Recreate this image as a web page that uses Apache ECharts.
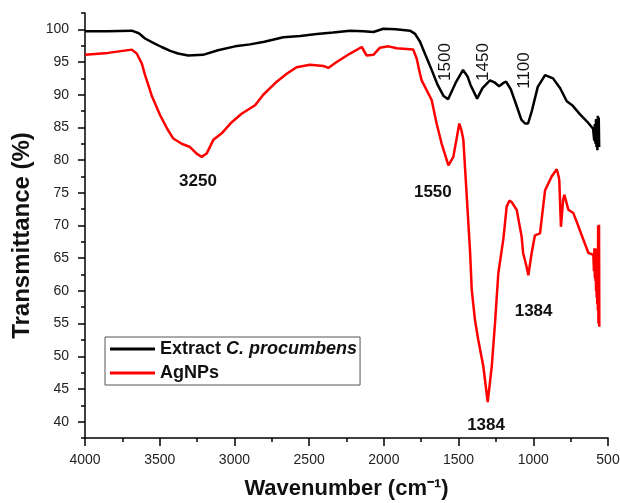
<!DOCTYPE html>
<html>
<head>
<meta charset="utf-8">
<script src="https://cdn.jsdelivr.net/npm/echarts@6/dist/echarts.min.js"></script>
<style>
html, body { margin: 0; padding: 0; background: #fff; }
#main { width: 620px; height: 503px; }
</style>
</head>
<body>
<div id="main"></div>
<script>
// FTIR spectra, wavenumber (cm-1) vs transmittance (%)
var extractWn = [4000, 3850, 3687, 3640, 3598, 3540, 3487, 3430, 3377, 3310, 3210, 3110, 2996, 2896, 2800, 2673, 2560, 2449, 2340, 2226, 2137, 2070, 2003, 1920, 1825, 1791, 1758, 1720, 1680, 1640, 1600, 1570, 1520, 1470, 1440, 1420, 1376, 1340, 1290, 1260, 1229, 1200, 1182, 1150, 1110, 1080, 1055, 1035, 1010, 970, 921, 868, 820, 776, 740, 687, 640, 600, 592, 588, 584, 580, 577, 574, 571, 568, 565, 562, 559];
var extractT = [99.7, 99.7, 99.8, 99.4, 98.6, 97.9, 97.3, 96.7, 96.3, 96.0, 96.1, 96.8, 97.4, 97.7, 98.1, 98.8, 99.0, 99.3, 99.5, 99.8, 99.7, 99.6, 100.1, 100.0, 99.8, 99.3, 98.1, 96.0, 93.8, 91.5, 89.8, 89.3, 91.8, 93.8, 92.8, 91.5, 89.4, 91.0, 92.2, 91.9, 91.3, 91.8, 92.0, 90.8, 88.2, 86.2, 85.6, 85.6, 87.5, 91.2, 93.0, 92.5, 91.0, 89.0, 88.4, 87.0, 85.9, 84.8, 83.0, 85.5, 82.5, 86.3, 82.0, 85.8, 81.5, 86.8, 82.5, 86.5, 82.0];

var agWn = [4000, 3846, 3687, 3654, 3620, 3598, 3554, 3498, 3450, 3409, 3353, 3297, 3253, 3219, 3186, 3141, 3085, 3018, 2952, 2862, 2807, 2717, 2650, 2584, 2494, 2405, 2372, 2316, 2226, 2148, 2115, 2070, 2026, 1970, 1914, 1803, 1780, 1758, 1747, 1680, 1647, 1613, 1568, 1535, 1495, 1480, 1468, 1445, 1423, 1412, 1390, 1368, 1334, 1305, 1278, 1256, 1234, 1200, 1178, 1160, 1145, 1111, 1078, 1068, 1060, 1045, 1033, 1011, 989, 955, 921, 877, 843, 830, 826, 815, 800, 792, 765, 732, 700, 676, 631, 598, 594, 591, 588, 586, 584, 582, 580, 578, 576, 574, 572, 570, 568, 566, 564, 562, 560, 558];
var agT = [96.1, 96.4, 96.9, 96.3, 94.8, 93.0, 89.9, 86.9, 84.8, 83.3, 82.5, 82.0, 81.0, 80.5, 81.0, 83.1, 84.1, 85.8, 87.1, 88.4, 90.0, 92.0, 93.2, 94.2, 94.6, 94.4, 94.1, 95.0, 96.3, 97.3, 96.0, 96.1, 97.2, 97.4, 97.1, 96.9, 95.5, 93.2, 92.2, 89.2, 85.6, 82.5, 79.2, 80.5, 85.6, 84.5, 83.1, 74.4, 66.0, 60.2, 55.5, 52.5, 48.4, 43.0, 48.4, 55.1, 62.7, 68.0, 72.9, 73.8, 73.6, 72.4, 68.3, 65.8, 65.5, 63.7, 62.4, 65.8, 68.5, 68.8, 75.4, 77.5, 78.6, 77.5, 76.9, 69.8, 74.0, 74.7, 72.4, 71.9, 70.0, 68.5, 65.8, 65.5, 63.0, 66.5, 62.0, 66.0, 61.5, 66.5, 60.0, 66.0, 59.0, 66.5, 58.0, 66.0, 57.0, 70.0, 55.0, 68.0, 70.1, 54.5];

var seriesNames = ['Extract C. procumbens', 'AgNPs'];
var yTicks = [40, 45, 50, 55, 60, 65, 70, 75, 80, 85, 90, 95, 100];
var yMinorTicks = [37.5, 42.5, 47.5, 52.5, 57.5, 62.5, 67.5, 72.5, 77.5, 82.5, 87.5, 92.5, 97.5, 102.5];

// peak labels: [text, wavenumber, transmittance, rotated]
var peakLabels = [
    ['3250', 3244, 76.8, false],
    ['1550', 1672, 75.0, false],
    ['1384', 998, 56.8, false],
    ['1384', 1316, 39.4, false],
    ['1500', 1590, 95.0, true],
    ['1450', 1336, 95.0, true],
    ['1100', 1062, 93.7, true]
];

function pairs(xs, ys) {
    var out = [];
    for (var i = 0; i < xs.length; i++) out.push([xs[i], ys[i]]);
    return out;
}

var font = '"Liberation Sans", Arial, sans-serif';
var myChart = echarts.init(document.getElementById('main'));

var marks = peakLabels.map(function (p) {
    return {
        coord: [p[1], p[2]],
        symbolSize: 0,
        label: {
            show: true,
            position: 'inside',
            formatter: p[0],
            rotate: p[3] ? 90 : 0,
            fontFamily: font,
            fontSize: 17,
            fontWeight: p[3] ? 'normal' : 'bold',
            color: '#111'
        }
    };
});

var option = {
    animation: false,
    textStyle: { fontFamily: font },
    grid: { left: 85, right: 12, top: 13, bottom: 65, outerBoundsMode: 'none' },
    legend: {
        orient: 'vertical',
        left: 105,
        top: 337,
        data: seriesNames,
        icon: 'rect',
        itemWidth: 45,
        itemHeight: 3,
        itemGap: 6,
        padding: [3, 3, 3, 5],
        borderColor: '#555',
        borderWidth: 1,
        formatter: function (name) {
            if (name === seriesNames[0]) return '{b|Extract }{i|C. procumbens}';
            return '{b|' + name + '}';
        },
        textStyle: {
            rich: {
                b: { fontFamily: font, fontSize: 18, fontWeight: 'bold', color: '#111' },
                i: { fontFamily: font, fontSize: 18, fontWeight: 'bold', fontStyle: 'italic', color: '#111' }
            }
        }
    },
    xAxis: {
        type: 'value',
        inverse: true,
        min: 500,
        max: 4000,
        interval: 500,
        name: 'Wavenumber (cm\u207B\u00B9)',
        nameLocation: 'middle',
        nameGap: 40,
        nameTextStyle: { fontSize: 22, fontWeight: 'bold', color: '#111', fontFamily: font },
        axisLine: { lineStyle: { color: '#000', width: 1.5 } },
        axisTick: { inside: false, length: 8, lineStyle: { color: '#000', width: 1.5 } },
        minorTick: { show: true, splitNumber: 2, length: 4, lineStyle: { color: '#000', width: 1.5 } },
        axisLabel: {
            fontSize: 14, color: '#222', margin: 15,
            formatter: function (v) { return String(v); }
        },
        splitLine: { show: false }
    },
    yAxis: [{
        type: 'value',
        min: 37.5,
        max: 102.5,
        name: 'Transmittance (%)',
        nameLocation: 'middle',
        nameGap: 50,
        nameTextStyle: { fontSize: 24, fontWeight: 'bold', color: '#111', fontFamily: font, padding: [0, 20, 0, 0] },
        axisLine: { show: true, lineStyle: { color: '#000', width: 1.5 } },
        axisTick: { show: true, length: 7, customValues: yTicks, lineStyle: { color: '#000', width: 1.5 } },
        axisLabel: { fontSize: 14, color: '#222', margin: 16, customValues: yTicks },
        splitLine: { show: false }
    }, {
        type: 'value',
        min: 37.5,
        max: 102.5,
        position: 'left',
        axisLine: { show: false },
        axisTick: { show: true, length: 4, customValues: yMinorTicks, lineStyle: { color: '#000', width: 1.5 } },
        axisLabel: { show: false },
        splitLine: { show: false }
    }],
    series: [{
        name: seriesNames[0],
        type: 'line',
        data: pairs(extractWn, extractT),
        showSymbol: false,
        lineStyle: { color: '#000', width: 2.5 },
        itemStyle: { color: '#000' },
        markPoint: { symbol: 'circle', data: marks, silent: true }
    }, {
        name: seriesNames[1],
        type: 'line',
        data: pairs(agWn, agT),
        showSymbol: false,
        lineStyle: { color: '#f00', width: 2.5 },
        itemStyle: { color: '#f00' }
    }]
};

myChart.setOption(option);
</script>
</body>
</html>
